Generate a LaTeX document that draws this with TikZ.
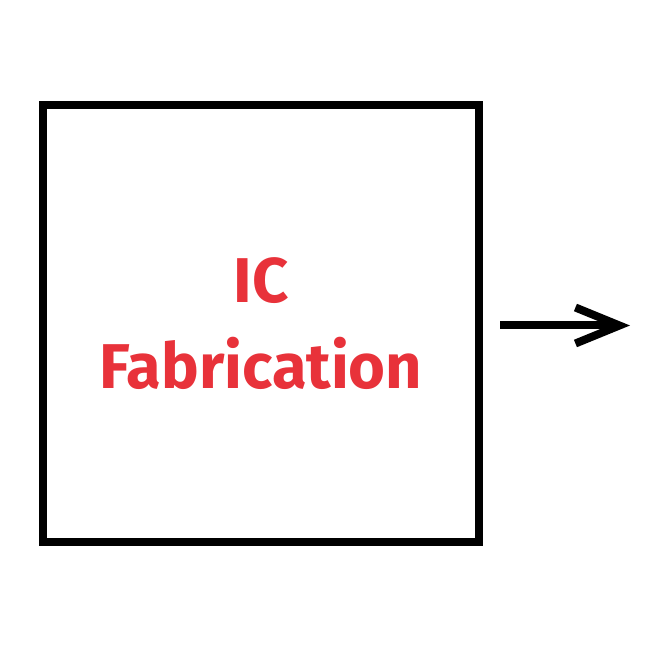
\documentclass[tikz,border=0pt]{standalone}
\usepackage{fontspec}
\setsansfont{Fira Sans}
\usepackage{tikz}
\usetikzlibrary{arrows.meta,positioning}
\definecolor{icred}{RGB}{232,50,58}

\begin{document}
\begin{tikzpicture}[
  stage/.style={rectangle, draw, line width=0.085cm, minimum width=4.36cm, minimum height=4.37cm, font=\sffamily\bfseries\fontsize{18}{24.7}\selectfont, text=icred, align=center},
  arrow/.style={-{Straight Barb[length=4.4mm, width=3.6mm]}, line width=0.08cm}
]
  \useasboundingbox (0,0) rectangle (6.61,6.61);
  \node[stage] (fab) at (2.61,3.375) {IC\\Fabrication};
  \coordinate (out) at (6.30,3.355);
  \draw[arrow, shorten <=0.17cm] (fab.east |- out) -- (out);
\end{tikzpicture}
\end{document}
